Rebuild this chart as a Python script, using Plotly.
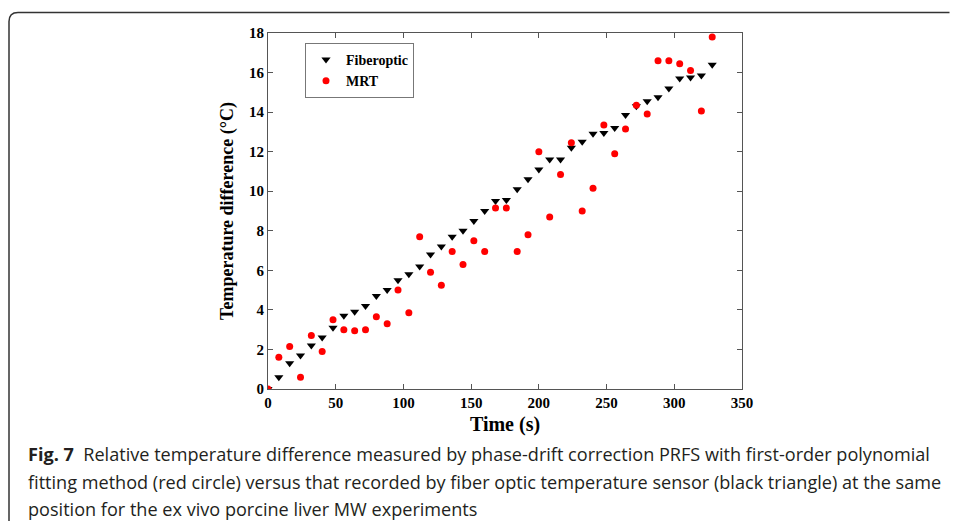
import plotly.graph_objects as go

fiber_t = [0, 8, 16, 24, 32, 40, 48, 56, 64, 72, 80, 88, 96, 104, 112, 120, 128, 136, 144, 152, 160,
           168, 176, 184, 192, 200, 208, 216, 224, 232, 240, 248, 256, 264, 272, 280, 288, 296, 304, 312, 320, 328]
fiber_T = [0.0, 0.6, 1.3, 1.7, 2.2, 2.6, 3.1, 3.7, 3.9, 4.2, 4.7, 5.0, 5.5, 5.8, 6.2, 6.8, 7.2, 7.7, 8.0, 8.5, 9.0,
           9.5, 9.55, 10.1, 10.6, 11.1, 11.6, 11.6, 12.2, 12.5, 12.9, 12.95, 13.2, 13.85, 14.3, 14.55, 14.75, 15.2,
           15.7, 15.75, 15.85, 16.4]

mrt_t = fiber_t
mrt_T = [0.0, 1.6, 2.15, 0.6, 2.7, 1.9, 3.5, 3.0, 2.95, 3.0, 3.65, 3.3, 5.0, 3.85, 7.7, 5.9, 5.25, 6.95, 6.3, 7.5,
         6.95, 9.15, 9.15, 6.95, 7.8, 12.0, 8.7, 10.85, 12.45, 9.0, 10.15, 13.35, 11.9, 13.15, 14.35, 13.9, 16.6,
         16.6, 16.45, 16.1, 14.05, 17.8]

x_ticks = [0, 50, 100, 150, 200, 250, 300, 350]
y_ticks = [0, 2, 4, 6, 8, 10, 12, 14, 16, 18]

caption_lines = [
    "<b>Fig. 7</b>  Relative temperature difference measured by phase-drift correction PRFS with first-order polynomial",
    "fitting method (red circle) versus that recorded by fiber optic temperature sensor (black triangle) at the same",
    "position for the ex vivo porcine liver MW experiments",
]

OFF = 8  # default body margin of the page (on every side)
W, H = 958 - 2 * OFF, 529 - 2 * OFF
L, R, T, B = 268 - OFF, 742 - OFF, 33 - OFF, 389 - OFF

def px(x):
    return (x - OFF - L) / (R - L)

def py(y):
    return (B - (y - OFF)) / (B - T)

serif = "Liberation Serif, Times New Roman, serif"

fig = go.Figure()
fig.add_trace(go.Scatter(x=fiber_t, y=fiber_T, mode="markers", name="<b>Fiberoptic</b>",
                         marker=dict(symbol="triangle-down", size=8, color="black")))
fig.add_trace(go.Scatter(x=mrt_t, y=mrt_T, mode="markers", name="<b>MRT</b>",
                         marker=dict(symbol="circle", size=7, color="#ff0000")))

axis_common = dict(showgrid=False, zeroline=False, showline=True, linecolor="#555555", linewidth=1,
                   mirror="ticks", ticks="inside", ticklen=5, tickcolor="#555555",
                   tickfont=dict(family=serif, size=15, color="black"))

fig.update_xaxes(range=[0, 350], tickvals=x_ticks, ticktext=[f"<b>{v}</b>" for v in x_ticks],
                 title=dict(text="<b>Time (s)</b>", font=dict(family=serif, size=20, color="black"), standoff=6),
                 **axis_common)
fig.update_yaxes(range=[0, 18], tickvals=y_ticks, ticktext=[f"<b>{v}</b>" for v in y_ticks],
                 title=dict(text="<b>Temperature difference (°C)</b>", font=dict(family=serif, size=18, color="black"), standoff=10),
                 **axis_common)

# frame with rounded top-left corner
xl, yt = px(OFF + 1), py(12.5)
xr, yb = px(OFF + W - 0.5), py(OFF + H + 5)
rx, ry = 9 / (R - L), 9 / (B - T)
path = f"M {xl},{yb} L {xl},{yt - ry} Q {xl},{yt} {xl + rx},{yt} L {xr},{yt}"
fig.add_shape(type="path", xref="paper", yref="paper", path=path,
              line=dict(color="#333333", width=1.5))

caption_y = [454, 482, 509]
for txt, yy in zip(caption_lines, caption_y):
    fig.add_annotation(x=px(26), y=py(yy), xref="paper", yref="paper", xanchor="left", yanchor="middle",
                       text=txt, showarrow=False, align="left",
                       font=dict(family="Open Sans, Noto Sans, sans-serif", size=18.1, color="#231f20"))

fig.update_layout(
    width=W, height=H,
    margin=dict(l=L, r=W - R, t=T, b=H - B),
    paper_bgcolor="white", plot_bgcolor="white",
    showlegend=True,
    legend=dict(x=px(305), y=py(43), xanchor="left", yanchor="top",
                bordercolor="#777777", borderwidth=1, bgcolor="white",
                font=dict(family=serif, size=14, color="black"),
                itemwidth=30, tracegroupgap=0),
)

fig.write_html("out.html")
